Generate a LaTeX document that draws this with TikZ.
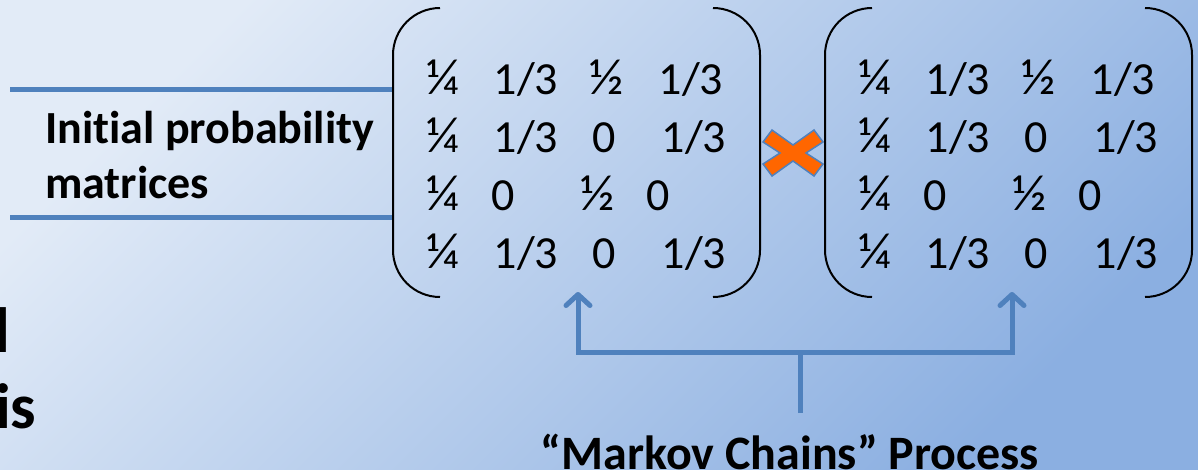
\documentclass[tikz,border=0pt]{standalone}
\usepackage{fontspec}
\setmainfont{Carlito}[Ligatures=NoCommon]
\usetikzlibrary{arrows.meta}
\definecolor{bgA}{HTML}{E2EBF7}
\definecolor{bgB}{HTML}{8BAFE1}
\definecolor{acc}{HTML}{4F81BD}
\definecolor{xorange}{HTML}{FF6600}
\newcommand\third{1/3}
\newcommand\fq{{\fontsize{51}{56}\selectfont ¼}}
\newcommand\fh{{\fontsize{51}{56}\selectfont ½}}
\begin{document}
\begin{tikzpicture}[x=1pt,y=-1pt,
  conn/.style={acc, line width=5pt},
  paren/.style={black, line width=2pt, rounded corners=47pt},
  ent/.style={inner sep=0pt, anchor=base, font=\fontsize{46}{54}\selectfont},
  lbl/.style={inner sep=0pt, anchor=base west, font=\fontsize{46}{55}\selectfont\bfseries},
  big/.style={inner sep=0pt, anchor=base west, font=\fontsize{64}{76}\selectfont\bfseries},
  tipbarb/.style={-{Straight Barb[length=11pt,width=24pt,round]}}
]
\useasboundingbox (0,0) rectangle (1198,469);
\clip (0,0) rectangle (1198,469);
\shade[top color=bgA, bottom color=bgB, shading angle=45] (-1,-1) rectangle (1199,470);

% cropped text on the left
\node[big] (tl) at (-6,352) {l};
\node[big] (tis) at (-5,428) {is};

% label
\node[lbl] (lab1) at (45,143) {Initial probability};
\node[lbl] (lab2) at (45,198) {matrices};

% left lines
\coordinate (l1s) at (10,89);
\coordinate (l1e) at (393,89);
\coordinate (l2s) at (10,217);
\coordinate (l2e) at (393,217);
\draw[conn] (l1s) -- (l1e);
\draw[conn] (l2s) -- (l2e);

% parentheses
\draw[paren] (440,8) -- (393,8) -- (393,297) -- (440,297);
\draw[paren] (713,8) -- (760,8) -- (760,297) -- (713,297);
\draw[paren] (872,8) -- (825,8) -- (825,297) -- (872,297);
\draw[paren] (1145,8) -- (1192,8) -- (1192,297) -- (1145,297);

% matrix entries
\foreach \mx/\pre in {0/a,432/b}{
  \foreach \x/\y/\t/\n in {443/94/\fq/11,526/94/\third/12,607/94/\fh/13,691/94/\third/14,
                           443/152/\fq/21,526/152/\third/22,604/152/0/23,694/152/\third/24,
                           443/210/\fq/31,503/210/0/32,598/210/\fh/33,658/210/0/34,
                           443/268/\fq/41,526/268/\third/42,604/268/0/43,694/268/\third/44}{
    \node[ent] (\pre\n) at (\x+\mx,\y) {\t};
  }
}

% multiplication sign
\draw[acc, line width=1.5pt, fill=xorange, line join=miter]
  (763,142) -- (772,130) -- (793,145) -- (814,130) -- (823,142) -- (806,153)
  -- (823,164) -- (814,176) -- (793,161) -- (772,176) -- (763,164) -- (780,153) -- cycle;

% arrows
\coordinate (sb) at (800,413);
\coordinate (jn) at (800,352);
\coordinate (tipL) at (578,292);
\coordinate (tipR) at (1012,292);
\draw[conn] (sb) -- (jn);
\draw[conn, tipbarb] (jn) -| (tipL);
\draw[conn, tipbarb] (jn) -| (tipR);

% bottom label
\node[inner sep=0pt, anchor=base, font=\fontsize{48}{58}\selectfont\bfseries] (proc) at (790,469) {“Markov Chains” Process};
\end{tikzpicture}
\end{document}
